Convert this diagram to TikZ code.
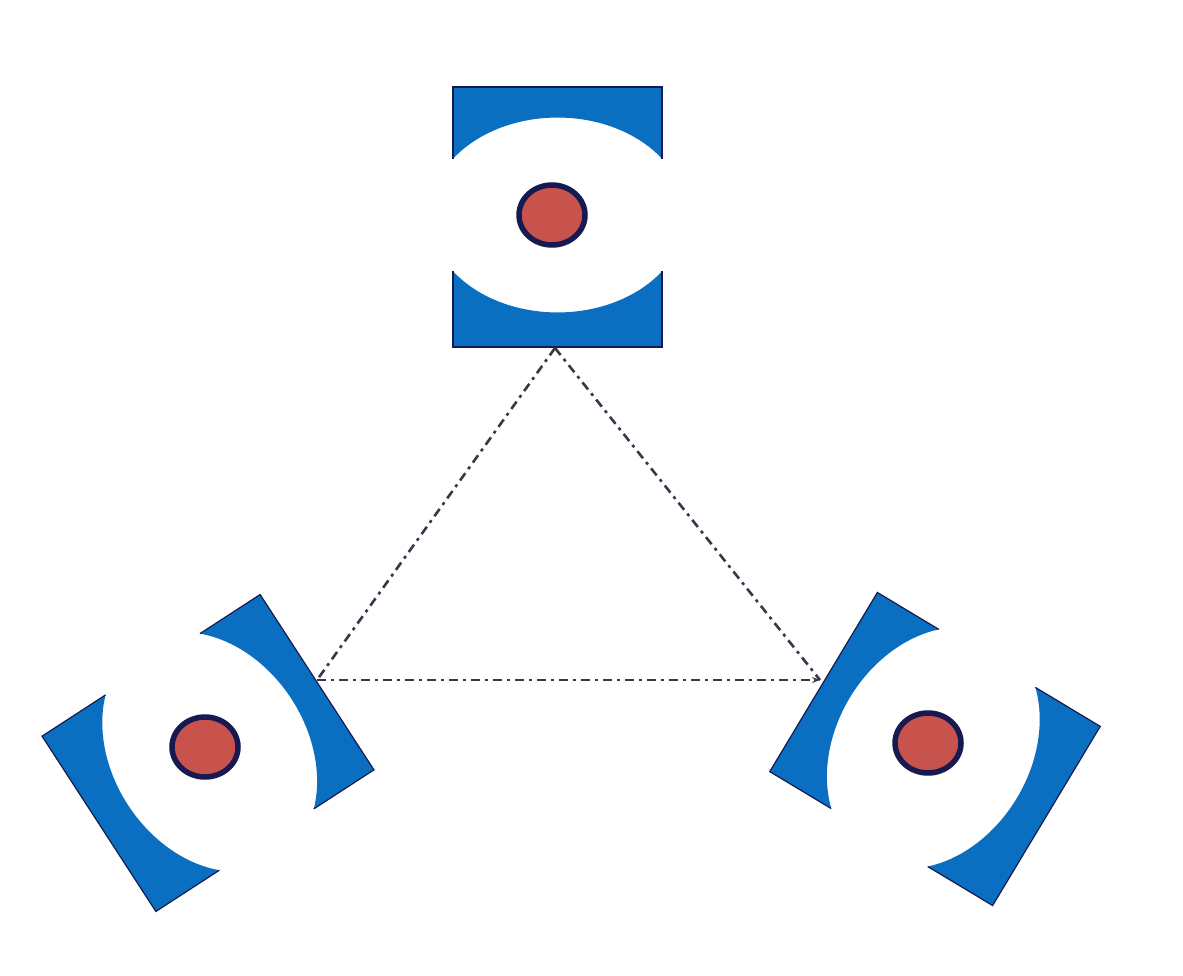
\documentclass[tikz,border=0pt]{standalone}
\usetikzlibrary{arrows.meta,shapes.geometric}
\definecolor{mblue}{RGB}{10,111,192}
\definecolor{mnavy}{RGB}{22,26,80}
\definecolor{mred}{RGB}{200,82,76}
\definecolor{lgray}{RGB}{55,57,75}
\tikzset{
  strip/.style={fill=mblue},
  edge/.style={draw=mnavy, line width=1.2pt, line join=miter},
  mirror/.pic={
    % top strip
    \fill[strip] (-104.5,-58.3) -- (-104.5,-130) -- (104.5,-130) -- (104.5,-58.3)
      arc[start angle=-35.3, end angle=-144.7, x radius=128, y radius=97.5] -- cycle;
    \draw[edge] (-104.5,-58.3) -- (-104.5,-130) -- (104.5,-130) -- (104.5,-58.3);
    % bottom strip
    \fill[strip] (-104.5,54.3) -- (-104.5,130) -- (104.5,130) -- (104.5,54.3)
      arc[start angle=35.3, end angle=144.7, x radius=128, y radius=97.5] -- cycle;
    \draw[edge] (-104.5,54.3) -- (-104.5,130) -- (104.5,130) -- (104.5,54.3);
  },
  dot/.style={ellipse, fill=mred, draw=mnavy, line width=5.5pt,
    minimum width=66pt, minimum height=60pt, inner sep=0pt},
  dd/.style={draw=lgray, line width=2.6pt,
    dash pattern=on 9pt off 5pt on 3pt off 5pt},
}
\begin{document}
\begin{tikzpicture}[x=1pt,y=-1pt]
\useasboundingbox (0,0) rectangle (1183,976);
\fill[white] (0,0) rectangle (1183,976);
% mirrors
\pic at (557.5,217) {mirror};
\pic[rotate=-57] at (208,753) {mirror};
\pic[rotate=59] at (935,749) {mirror};
% dots
\node[dot] (d1) at (552,215) {};
\node[dot] (d2) at (205,747) {};
\node[dot] (d3) at (928,743) {};
% connectors
\coordinate (A) at (555,348);
\coordinate (B) at (317,680);
\coordinate (C) at (820,680);
\draw[dd] (A) -- (B);
\draw[dd] (A) -- (C);
\draw[dd,-{Stealth[length=8pt,width=6pt]}] (B) -- (C);
\end{tikzpicture}
\end{document}
